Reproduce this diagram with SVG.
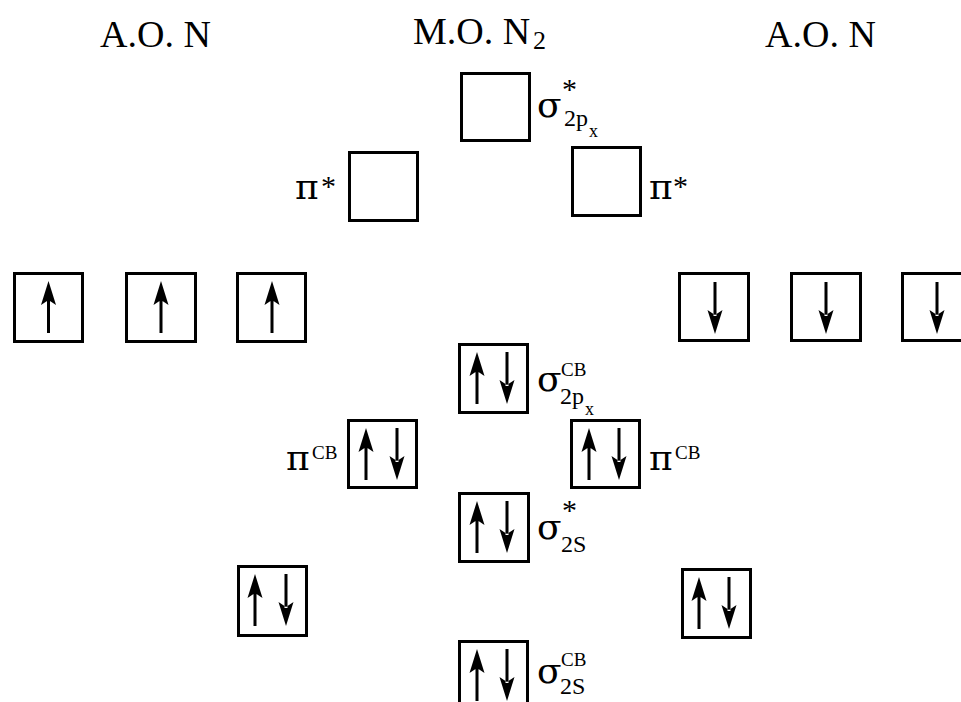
<svg xmlns="http://www.w3.org/2000/svg" xmlns:xlink="http://www.w3.org/1999/xlink" width="961" height="702" viewBox="0 0 961 702">
<style>
.box{fill:none;stroke:#000;stroke-width:3}
.t{font-family:"Liberation Serif","Times New Roman",serif;fill:#000}
.h{font-size:38px}
.g{font-family:"DejaVu Serif","Liberation Serif",serif;font-size:36px}
.sup{font-size:30px}
.cb{font-size:19px}
.sub{font-size:24px}
.ss{font-size:18px}
</style>
<defs>
<path id="up" d="M0,0 L7.5,24 L0,19 L-7.5,24 Z M-1.5,18 H1.5 V52 H-1.5 Z" fill="#000"/>
<path id="dn" d="M0,52 L7.5,28 L0,33 L-7.5,28 Z M-1.5,0 H1.5 V34 H-1.5 Z" fill="#000"/>
</defs>
<rect width="961" height="702" fill="#fff"/>
<g id="headers">
<text class="t h" x="100" y="47">A.O. N</text>
<text class="t h" x="413" y="44">M.O. N<tspan x="533" y="49" font-size="26">2</tspan></text>
<text class="t h" x="765" y="47">A.O. N</text>
</g>
<g id="connectors"></g>
<g id="sigma-star-2p">
<rect class="box" x="461.5" y="73.5" width="68" height="67"/>
<text class="t"><tspan class="g" x="537" y="117">σ</tspan><tspan class="sup" x="562" y="99">*</tspan><tspan class="sub" x="564" y="126">2p</tspan><tspan class="ss" x="589" y="137">x</tspan></text>
</g>
<g id="pi-star-left">
<rect class="box" x="349.5" y="152.5" width="68" height="68"/>
<text class="t"><tspan class="g" x="295" y="199">π</tspan><tspan class="sup" x="321" y="196">*</tspan></text>
</g>
<g id="pi-star-right">
<rect class="box" x="572.5" y="147.5" width="68" height="68"/>
<text class="t"><tspan class="g" x="649" y="199">π</tspan><tspan class="sup" x="673" y="196">*</tspan></text>
</g>
<g id="ao-left-2p-1">
<rect class="box" x="14.5" y="273.5" width="68" height="68"/>
<use xlink:href="#up" x="48.5" y="281"/>
</g>
<g id="ao-left-2p-2">
<rect class="box" x="126.5" y="273.5" width="69" height="68"/>
<use xlink:href="#up" x="161" y="281"/>
</g>
<g id="ao-left-2p-3">
<rect class="box" x="237.5" y="273.5" width="68" height="68"/>
<use xlink:href="#up" x="272" y="281"/>
</g>
<g id="ao-right-2p-1">
<rect class="box" x="679.5" y="273.5" width="69" height="67"/>
<use xlink:href="#dn" x="715" y="282"/>
</g>
<g id="ao-right-2p-2">
<rect class="box" x="791.5" y="273.5" width="69" height="67"/>
<use xlink:href="#dn" x="826" y="282"/>
</g>
<g id="ao-right-2p-3">
<rect class="box" x="902.5" y="273.5" width="68" height="67"/>
<use xlink:href="#dn" x="937" y="282"/>
</g>
<g id="sigma-cb-2p">
<rect class="box" x="459.5" y="344.5" width="68" height="68"/>
<use xlink:href="#up" x="477" y="352"/>
<use xlink:href="#dn" x="507" y="352"/>
<text class="t"><tspan class="g" x="537" y="391">σ</tspan><tspan class="cb" x="561" y="376">CB</tspan><tspan class="sub" x="560" y="404">2p</tspan><tspan class="ss" x="585" y="415">x</tspan></text>
</g>
<g id="pi-cb-left">
<rect class="box" x="348.5" y="420.5" width="68" height="67"/>
<use xlink:href="#up" x="366" y="428"/>
<use xlink:href="#dn" x="397" y="428"/>
<text class="t"><tspan class="g" x="286" y="470">π</tspan><tspan class="cb" x="312" y="459">CB</tspan></text>
</g>
<g id="pi-cb-right">
<rect class="box" x="571.5" y="420.5" width="68" height="67"/>
<use xlink:href="#up" x="589" y="428"/>
<use xlink:href="#dn" x="619" y="428"/>
<text class="t"><tspan class="g" x="649" y="470">π</tspan><tspan class="cb" x="675" y="459">CB</tspan></text>
</g>
<g id="sigma-star-2s">
<rect class="box" x="459.5" y="493.5" width="69" height="68"/>
<use xlink:href="#up" x="477" y="501"/>
<use xlink:href="#dn" x="507" y="501"/>
<text class="t"><tspan class="g" x="537" y="539">σ</tspan><tspan class="sup" x="562" y="520">*</tspan><tspan class="sub" x="561" y="552">2S</tspan></text>
</g>
<g id="ao-left-2s">
<rect class="box" x="238.5" y="566.5" width="68" height="69"/>
<use xlink:href="#up" x="255" y="574"/>
<use xlink:href="#dn" x="286" y="574"/>
</g>
<g id="ao-right-2s">
<rect class="box" x="682.5" y="569.5" width="68" height="68"/>
<use xlink:href="#up" x="699" y="577"/>
<use xlink:href="#dn" x="729" y="577"/>
</g>
<g id="sigma-cb-2s">
<rect class="box" x="459.5" y="641.5" width="68" height="68"/>
<use xlink:href="#up" x="477" y="649"/>
<use xlink:href="#dn" x="507" y="649"/>
<text class="t"><tspan class="g" x="537" y="683">σ</tspan><tspan class="cb" x="561" y="666">CB</tspan><tspan class="sub" x="560" y="694">2S</tspan></text>
</g>
</svg>
